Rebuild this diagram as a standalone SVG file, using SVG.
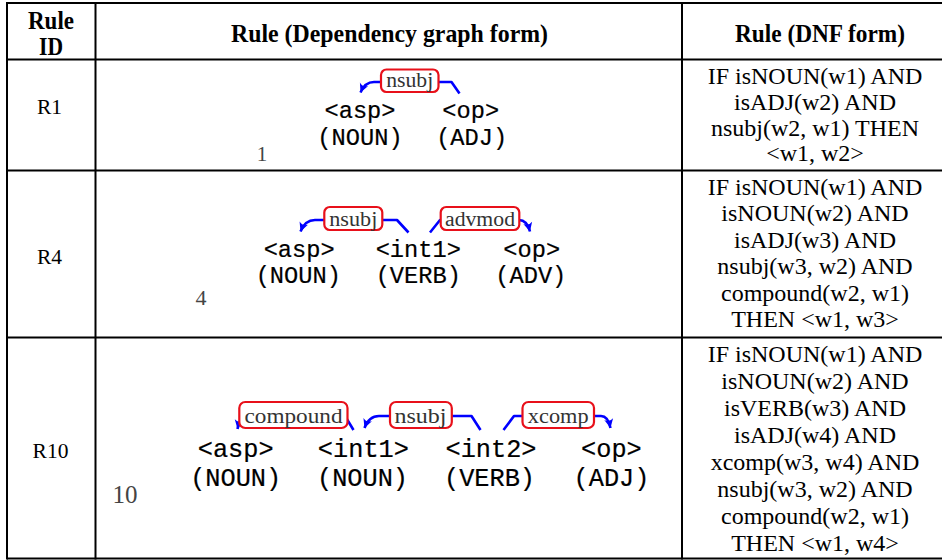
<svg xmlns="http://www.w3.org/2000/svg" width="942" height="560" viewBox="0 0 942 560">
<style>
.grid{stroke:#000;stroke-width:2;fill:none}
.hd{font-family:"Liberation Serif",serif;font-weight:bold;font-size:26px;fill:#000;text-anchor:middle}
.id{font-family:"Liberation Serif",serif;font-size:21.5px;fill:#000;text-anchor:middle}
.dnf{font-family:"Liberation Serif",serif;font-size:24px;fill:#000;text-anchor:middle}
.w{font-family:"Liberation Mono",monospace;font-size:23.7px;fill:#000;stroke:#000;stroke-width:0.2;text-anchor:middle}
.w2{font-family:"Liberation Mono",monospace;font-size:25.3px;fill:#000;stroke:#000;stroke-width:0.2;text-anchor:middle}
.num{font-family:"Liberation Serif",serif;fill:#444;text-anchor:middle}
.lb{fill:#fff;stroke:#e8101a;stroke-width:2.2}
.lt{font-family:"Liberation Serif",serif;font-size:20px;fill:#333;text-anchor:middle}
.lt2{font-family:"Liberation Serif",serif;font-size:21.5px;fill:#333;text-anchor:middle}
.arc{fill:none;stroke:#0000ff;stroke-width:2.6;stroke-linejoin:round}
</style>
<defs>
<marker id="ah" viewBox="-10 -6 11 12" refX="0" refY="0" markerWidth="11" markerHeight="12" markerUnits="userSpaceOnUse" orient="auto">
<path d="M0,0 L-9,-4.5 Q-5.5,0 -9,4.5 Z" fill="#0000ff"/>
</marker>
</defs>

<g id="table">
<line class="grid" x1="7" y1="3" x2="942" y2="3"/>
<line class="grid" x1="7" y1="59.5" x2="942" y2="59.5"/>
<line class="grid" x1="7" y1="170.5" x2="942" y2="170.5"/>
<line class="grid" x1="7" y1="337.5" x2="942" y2="337.5"/>
<line class="grid" x1="7" y1="558.5" x2="942" y2="558.5"/>
<line class="grid" x1="7" y1="2" x2="7" y2="559.5"/>
<line class="grid" x1="95.5" y1="2" x2="95.5" y2="559.5"/>
<line class="grid" x1="682" y1="2" x2="682" y2="559.5"/>
</g>

<g id="header">
<text class="hd" x="51" y="28.5" textLength="46" lengthAdjust="spacingAndGlyphs">Rule</text>
<text class="hd" x="51" y="55" textLength="24" lengthAdjust="spacingAndGlyphs">ID</text>
<text class="hd" x="389.5" y="42" textLength="317" lengthAdjust="spacingAndGlyphs">Rule (Dependency graph form)</text>
<text class="hd" x="820" y="42" textLength="170" lengthAdjust="spacingAndGlyphs">Rule (DNF form)</text>
</g>

<g id="ids">
<text class="id" x="49.5" y="113.5">R1</text>
<text class="id" x="49.5" y="264">R4</text>
<text class="id" x="50.5" y="458">R10</text>
</g>

<g id="dnf">
<text class="dnf" x="815" y="84">IF isNOUN(w1) AND</text>
<text class="dnf" x="815" y="110">isADJ(w2) AND</text>
<text class="dnf" x="815" y="135.5">nsubj(w2, w1) THEN</text>
<text class="dnf" x="815" y="161">&lt;w1, w2&gt;</text>

<text class="dnf" x="815" y="194.5">IF isNOUN(w1) AND</text>
<text class="dnf" x="815" y="221">isNOUN(w2) AND</text>
<text class="dnf" x="815" y="247.5">isADJ(w3) AND</text>
<text class="dnf" x="815" y="274">nsubj(w3, w2) AND</text>
<text class="dnf" x="815" y="300.5">compound(w2, w1)</text>
<text class="dnf" x="815" y="327">THEN &lt;w1, w3&gt;</text>

<text class="dnf" x="815" y="361.5">IF isNOUN(w1) AND</text>
<text class="dnf" x="815" y="388.5">isNOUN(w2) AND</text>
<text class="dnf" x="815" y="415.5">isVERB(w3) AND</text>
<text class="dnf" x="815" y="442.5">isADJ(w4) AND</text>
<text class="dnf" x="815" y="469.5">xcomp(w3, w4) AND</text>
<text class="dnf" x="815" y="496.5">nsubj(w3, w2) AND</text>
<text class="dnf" x="815" y="523.5">compound(w2, w1)</text>
<text class="dnf" x="815" y="551">THEN &lt;w1, w4&gt;</text>
</g>

<g id="connectors">
<path class="arc" d="M459.5,93.5 L451.5,82 L374,82 Q365,82 360.5,92.5" marker-end="url(#ah)"/>
<path class="arc" d="M408.5,232.5 L397,220 L315,220 Q305,220 300.5,231.5" marker-end="url(#ah)"/>
<path class="arc" d="M430,232.5 L440,220 L519,220 Q527,220 530,231.5" marker-end="url(#ah)"/>
<path class="arc" d="M353.5,430 L345,416 L248,416 Q240,416 237.5,429" marker-end="url(#ah)"/>
<path class="arc" d="M480.5,430 L471.5,416 L379,416 Q369,416 364.5,428" marker-end="url(#ah)"/>
<path class="arc" d="M503.5,430 L514,416 L601,416 Q608,416 610.5,428" marker-end="url(#ah)"/>
</g>

<g id="r1-graph">
<rect class="lb" x="381" y="69.5" width="57.5" height="22.5" rx="5.5"/>
<text class="lt" x="409.7" y="87" textLength="47" lengthAdjust="spacingAndGlyphs">nsubj</text>
<text class="w" x="360" y="118.3">&lt;asp&gt;</text>
<text class="w" x="360" y="145">(NOUN)</text>
<text class="w" x="470.7" y="118.3">&lt;op&gt;</text>
<text class="w" x="471.7" y="145">(ADJ)</text>
<text class="num" x="262" y="161" font-size="21">1</text>
</g>

<g id="r4-graph">
<rect class="lb" x="324.3" y="207" width="58" height="23" rx="5.5"/>
<text class="lt" x="353.3" y="225.5" textLength="48" lengthAdjust="spacingAndGlyphs">nsubj</text>
<rect class="lb" x="440.7" y="207" width="78.6" height="23" rx="5.5"/>
<text class="lt" x="480" y="225.5" textLength="70" lengthAdjust="spacingAndGlyphs">advmod</text>
<text class="w" x="299.2" y="256.7">&lt;asp&gt;</text>
<text class="w" x="298.3" y="283.3">(NOUN)</text>
<text class="w" x="418.3" y="256.7">&lt;int1&gt;</text>
<text class="w" x="418.3" y="283.3">(VERB)</text>
<text class="w" x="531.7" y="256.7">&lt;op&gt;</text>
<text class="w" x="530.8" y="283.3">(ADV)</text>
<text class="num" x="201" y="305" font-size="22" fill="#555">4</text>
</g>

<g id="r10-graph">
<rect class="lb" x="239.3" y="402" width="108.2" height="26" rx="6"/>
<text class="lt2" x="293.5" y="422.5" textLength="98" lengthAdjust="spacingAndGlyphs">compound</text>
<rect class="lb" x="390" y="402" width="61.8" height="26" rx="6"/>
<text class="lt2" x="420.5" y="422.5" textLength="52" lengthAdjust="spacingAndGlyphs">nsubj</text>
<rect class="lb" x="522.5" y="402" width="71.5" height="26" rx="6"/>
<text class="lt2" x="558.2" y="422.5" textLength="60.7" lengthAdjust="spacingAndGlyphs">xcomp</text>
<text class="w2" x="235.7" y="457">&lt;asp&gt;</text>
<text class="w2" x="235.7" y="486">(NOUN)</text>
<text class="w2" x="363.4" y="457">&lt;int1&gt;</text>
<text class="w2" x="362.5" y="486">(NOUN)</text>
<text class="w2" x="491" y="457">&lt;int2&gt;</text>
<text class="w2" x="489.5" y="486">(VERB)</text>
<text class="w2" x="611.4" y="457">&lt;op&gt;</text>
<text class="w2" x="611.5" y="486">(ADJ)</text>
<text class="num" x="125" y="503" font-size="25" fill="#333">10</text>
</g>
</svg>
